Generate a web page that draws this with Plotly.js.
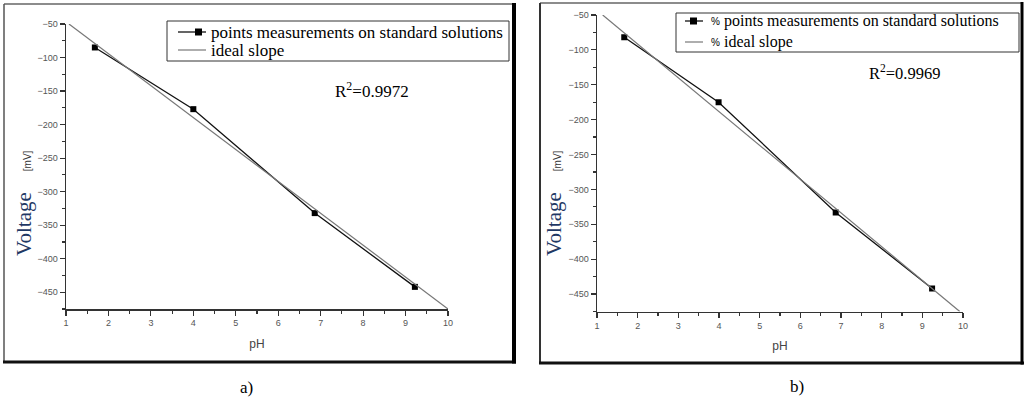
<!DOCTYPE html>
<html>
<head>
<meta charset="utf-8">
<script src="https://cdn.plot.ly/plotly-3.0.1.min.js"></script>
<style>html,body{margin:0;padding:0;background:#fff;}#chart{width:1026px;height:399px;}</style>
</head>
<body>
<div id="chart"></div>
<script>
// ---- data ----
const phA = [1.68, 4.0, 6.86, 9.22];
const mvA = [-85, -177, -332, -442];
const idealPhA = [1.07, 10];
const idealMvA = [-50, -475];

const phB = [1.67, 3.99, 6.87, 9.24];
const mvB = [-82, -175, -333, -442];
const idealPhB = [1.14, 9.92];
const idealMvB = [-50, -475];

const xTicks = [1, 2, 3, 4, 5, 6, 7, 8, 9, 10];
const yTicks = [-50, -100, -150, -200, -250, -300, -350, -400, -450];

const r2A = "R<sup>2</sup>=0.9972";
const r2B = "R<sup>2</sup>=0.9969";
const legendA = ["points measurements on standard solutions", "ideal slope"];
const legendB = ["points measurements on standard solutions", "ideal slope"];
const pctPrefix = "%";

// ---- layout helpers ----
const W = 1026, H = 399;
const px = x => x / W;
const py = y => (H - y) / H;

const SERIF = "Liberation Serif";
const SANS = "Liberation Sans";
const tickFont = {family: SANS, size: 9, color: "#555"};
function xAxis(domain, anchor) {
  return {
    domain: domain, anchor: anchor, range: [1, 10], tickvals: xTicks,
    showgrid: false, zeroline: false, showline: true, linecolor: "#333", linewidth: 1.5,
    ticks: "outside", ticklen: 5, tickcolor: "#333", tickwidth: 1.2, tickfont: tickFont,
    minor: {dtick: 0.5, tick0: 1, ticks: "outside", ticklen: 3, tickcolor: "#333", showgrid: false},
    title: {text: "pH", font: {family: SANS, size: 12, color: "#444"}, standoff: 12},
    fixedrange: true
  };
}
function yAxis(domain, anchor) {
  return {
    domain: domain, anchor: anchor, range: [-475, -50], tickvals: yTicks,
    showgrid: false, zeroline: false, showline: true, linecolor: "#333", linewidth: 1.5,
    ticks: "outside", ticklen: 5, tickcolor: "#333", tickwidth: 1.2, tickfont: tickFont,
    minor: {dtick: 25, tick0: -50, ticks: "outside", ticklen: 3, tickcolor: "#333", showgrid: false},
    fixedrange: true
  };
}

const traces = [
  {x: phA, y: mvA, type: "scatter", mode: "lines+markers", name: legendA[0],
   line: {color: "#111", width: 1.3}, marker: {symbol: "square", size: 6, color: "#000"},
   xaxis: "x", yaxis: "y"},
  {x: idealPhA, y: idealMvA, type: "scatter", mode: "lines", name: legendA[1],
   line: {color: "#777", width: 1.2}, xaxis: "x", yaxis: "y"},
  {x: phB, y: mvB, type: "scatter", mode: "lines+markers", name: legendB[0],
   line: {color: "#111", width: 1.3}, marker: {symbol: "square", size: 6, color: "#000"},
   xaxis: "x2", yaxis: "y2"},
  {x: idealPhB, y: idealMvB, type: "scatter", mode: "lines", name: legendB[1],
   line: {color: "#777", width: 1.2}, xaxis: "x2", yaxis: "y2"}
];

const ytitle = "Voltage" + "\u00a0".repeat(4) +
  "<span style=\"font-family:'Liberation Sans';font-size:10px;color:#333\">[mV]</span>";

function line(x0, y0, x1, y1, color, width) {
  return {type: "line", xref: "paper", yref: "paper", x0: px(x0), y0: py(y0), x1: px(x1), y1: py(y1),
          line: {color: color, width: width}};
}
function rect(x0, y0, x1, y1, lineColor, width, fill) {
  return {type: "rect", xref: "paper", yref: "paper", x0: px(x0), y0: py(y0), x1: px(x1), y1: py(y1),
          line: {color: lineColor, width: width}, fillcolor: fill};
}
function txt(text, x, y, size, family, xanchor, color) {
  return {text: text, xref: "paper", yref: "paper", x: px(x), y: py(y), xanchor: xanchor || "left",
          yanchor: "middle", showarrow: false, font: {family: family || SERIF, size: size, color: color || "#000"}};
}

// frames and legend keys (decoration, one per panel)
const shapes = [
  // panel a frame
  line(4, 4, 514, 4, "#666", 1.5),
  line(4, 4, 4, 362, "#555", 1.5),
  line(3, 362, 516, 362, "#111", 3),
  line(514, 3, 514, 363.5, "#000", 4),
  // panel b frame
  line(540, 3, 1023, 3, "#666", 1.5),
  line(540, 3, 540, 363, "#333", 2),
  line(539, 363, 1024, 363, "#111", 3),
  line(1022, 2, 1022, 364.5, "#000", 3),
  // legend a
  rect(167, 21, 509, 61, "#333", 1, "#fff"),
  line(178, 32, 206, 32, "#111", 1.3),
  rect(195, 28.5, 202, 35.5, "#000", 0, "#000"),
  line(178, 50, 206, 50, "#777", 1.2),
  // legend b
  rect(676, 13, 1019, 52, "#333", 1, "#fff"),
  line(685, 21, 703, 21, "#111", 1.3),
  rect(690, 17.5, 697, 24.5, "#000", 0, "#000"),
  line(685, 42, 703, 42, "#777", 1.2)
];

const annotations = [
  txt(legendA[0], 209, 32, 17),
  txt(legendA[1], 209, 50, 17),
  txt(pctPrefix, 709, 21.5, 10, SANS),
  txt(legendB[0], 722, 21, 16),
  txt(pctPrefix, 709, 42.5, 10, SANS),
  txt(legendB[1], 722, 42, 16),
  txt(r2A, 333, 90, 17),
  txt(r2B, 867, 72, 16.5),
  {text: ytitle, xref: "paper", yref: "paper", x: px(24), y: py(203), xanchor: "center", yanchor: "middle",
   textangle: -90, showarrow: false, font: {family: SERIF, size: 21, color: "#1f3864"}},
  {text: ytitle, xref: "paper", yref: "paper", x: px(554), y: py(203), xanchor: "center", yanchor: "middle",
   textangle: -90, showarrow: false, font: {family: SERIF, size: 21, color: "#1f3864"}},
  txt("a)", 246, 387, 17, SERIF, "center"),
  txt("b)", 797, 386, 17, SERIF, "center")
];

const layout = {
  width: W, height: H,
  margin: {l: 0, r: 0, t: 0, b: 0},
  font: {family: SERIF, color: "#000", size: 16},
  paper_bgcolor: "#fff", plot_bgcolor: "#fff",
  showlegend: false,
  xaxis: xAxis([px(66), px(448)], "y"),
  yaxis: yAxis([py(309), py(24)], "x"),
  xaxis2: xAxis([px(597), px(963)], "y2"),
  yaxis2: yAxis([py(311.5), py(15)], "x2"),
  annotations: annotations,
  shapes: shapes
};

Plotly.newPlot("chart", traces, layout, {displayModeBar: false, staticPlot: true});
</script>
</body>
</html>
